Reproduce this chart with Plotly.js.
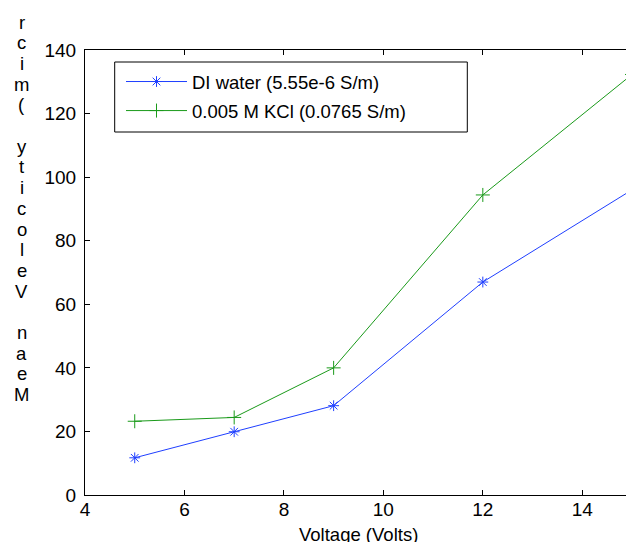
<!DOCTYPE html>
<html><head><meta charset="utf-8">
<script src="https://cdn.plot.ly/plotly-3.0.1.min.js"></script>
<style>html,body{margin:0;padding:0;overflow:hidden;background:#fff}</style>
</head><body><div id="chart" style="width:640px;height:542px"></div>
<script>
const voltage = [5, 7, 9, 12, 15];
const diWater = [11.7, 19.9, 28.1, 67.0, 96.0];
const kcl = [23.2, 24.4, 40.0, 94.4, 132.3];
const seriesNames = ["DI water (5.55e-6 S/m)", "0.005 M KCl (0.0765 S/m)"];
const xTicks = [4, 6, 8, 10, 12, 14];
const yTicks = [0, 20, 40, 60, 80, 100, 120, 140];
const xTitle = "Voltage (Volts)";
const yTitle = "Mean Velocity (micr";

const FONT = "Liberation Sans, Arial, Helvetica, sans-serif";
const blue = "#1f3fff";
const green = "#1a9a1a";

const traces = [
  {x: voltage, y: diWater, name: seriesNames[0], type: "scatter", mode: "lines+markers",
   legendgroup: "a",
   line: {color: blue, width: 1}, marker: {symbol: "asterisk-open", size: 9, color: blue, line: {color: blue, width: 1}}},
  {x: voltage, y: kcl, name: seriesNames[1], type: "scatter", mode: "lines+markers",
   legendgroup: "b",
   line: {color: green, width: 1}, marker: {symbol: "cross-thin-open", size: 10, color: green, line: {color: green, width: 1}}}
];

// plot area in pixels
const L = 85, T = 50, B = 495, R = 632;
const px = v => (v - L) / (R - L);
const py = v => (B - v) / (B - T);
const annotations = [];
const chars = yTitle.split("").reverse();
chars.forEach((c, i) => {
  const ypix = 22 + i * 20.7;
  annotations.push({
    text: c === " " ? "" : c, xref: "paper", yref: "paper",
    x: px(21.5), y: py(ypix),
    xanchor: "center", yanchor: "middle", showarrow: false,
    font: {family: FONT, size: 18.5, color: "#000"}
  });
});
annotations.push({
  text: xTitle, xref: "paper", yref: "paper", x: 0.5, y: py(522),
  xanchor: "center", yanchor: "top", showarrow: false,
  font: {family: FONT, size: 18.5, color: "#000"}
});

const axisCommon = {
  showline: true, linecolor: "#000", linewidth: 1, mirror: "ticks",
  ticks: "inside", ticklen: 5, tickcolor: "#000", tickwidth: 1,
  showgrid: false, zeroline: false,
  tickfont: {family: FONT, size: 19, color: "#000"}
};

const layout = {
  width: 640, height: 542,
  margin: {l: L, r: 640 - R, t: T, b: 542 - B},
  paper_bgcolor: "#fff", plot_bgcolor: "#fff",
  font: {family: FONT, size: 18.5, color: "#000"},
  showlegend: true,
  legend: {x: px(121), y: py(63), xanchor: "left", yanchor: "top",
           borderwidth: 0, bgcolor: "rgba(0,0,0,0)",
           font: {family: FONT, size: 18.5, color: "#000"}, itemwidth: 61, tracegroupgap: 2},
  shapes: [{type: "rect", xref: "paper", yref: "paper", x0: px(114.7), x1: px(467.3), y0: py(132), y1: py(62),
            line: {color: "#000", width: 1}, fillcolor: "#fff", layer: "above"}],
  xaxis: Object.assign({}, axisCommon, {range: [4, 15], tickvals: xTicks, ticktext: xTicks.map(String),
           automargin: false, ticklabelstandoff: -3}),
  yaxis: Object.assign({}, axisCommon, {range: [0, 140], tickvals: yTicks, ticktext: yTicks.map(String), automargin: false, ticklabelstandoff: 4}),
  annotations: annotations
};

Plotly.newPlot("chart", traces, layout, {displayModeBar: false, staticPlot: true});
</script></body></html>
